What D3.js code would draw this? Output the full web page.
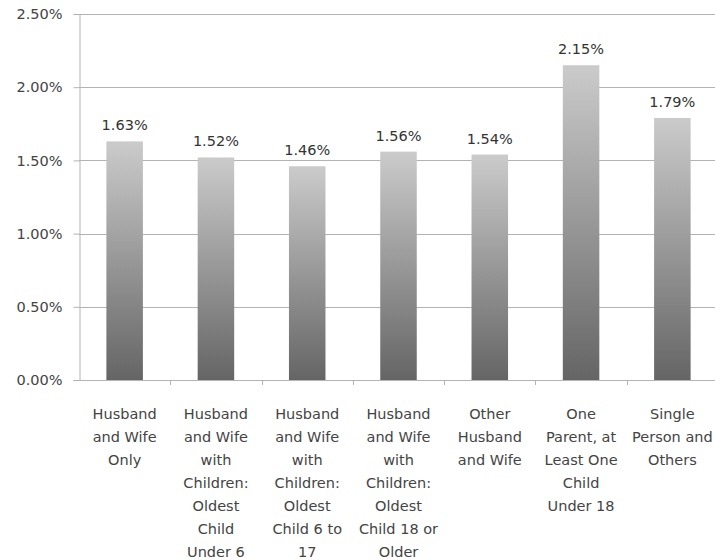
<!DOCTYPE html>
<html>
<head>
<meta charset="utf-8">
<script src="https://cdn.jsdelivr.net/npm/d3@7"></script>
<style>
  html, body { margin: 0; padding: 0; background: #fff; }
  svg { display: block; }
  text { font-family: "DejaVu Sans", sans-serif; }
</style>
</head>
<body>
<svg id="chart" width="715" height="560"></svg>
<script>
// Household types and their shares
const categories = [
  ["Husband", "and Wife", "Only"],
  ["Husband", "and Wife", "with", "Children:", "Oldest", "Child", "Under 6"],
  ["Husband", "and Wife", "with", "Children:", "Oldest", "Child 6 to", "17"],
  ["Husband", "and Wife", "with", "Children:", "Oldest", "Child 18 or", "Older"],
  ["Other", "Husband", "and Wife"],
  ["One", "Parent, at", "Least One", "Child", "Under 18"],
  ["Single", "Person and", "Others"]
];
const values = [1.63, 1.52, 1.46, 1.56, 1.54, 2.15, 1.79];
const yTicks = [0, 0.5, 1.0, 1.5, 2.0, 2.5];

const svg = d3.select("#chart");
const plotLeft = 79, plotRight = 718, plotTop = 14, plotBottom = 380;
const fontSize = 14.5;

const x = d3.scaleBand()
  .domain(d3.range(values.length))
  .range([plotLeft, plotRight])
  .paddingInner(0.6)
  .paddingOuter(0.3);

const y = d3.scaleLinear().domain([0, 2.5]).range([plotBottom, plotTop]);

// bar fill: light at the top, dark at the bottom
const grad = svg.append("defs").append("linearGradient")
  .attr("id", "barFill")
  .attr("x1", 0).attr("y1", 0).attr("x2", 0).attr("y2", 1);
grad.append("stop").attr("offset", "0%").attr("stop-color", "#cbcbcb");
grad.append("stop").attr("offset", "100%").attr("stop-color", "#656565");

// horizontal gridlines
svg.append("g")
  .selectAll("line")
  .data(yTicks.filter(d => d > 0))
  .join("line")
  .attr("x1", plotLeft).attr("x2", plotRight)
  .attr("y1", d => Math.round(y(d)) + 0.5)
  .attr("y2", d => Math.round(y(d)) + 0.5)
  .attr("stroke", "#b3b3b3")
  .attr("stroke-width", 1);

// y axis
const yAxis = d3.axisLeft(y)
  .tickValues(yTicks)
  .tickFormat(d => d.toFixed(2) + "%")
  .tickSize(6)
  .tickPadding(11);
const gy = svg.append("g").attr("transform", `translate(${plotLeft + 0.5},0)`).call(yAxis);
gy.select(".domain").attr("stroke", "#b3b3b3");
gy.selectAll(".tick line").attr("stroke", "#b3b3b3");
gy.selectAll(".tick text")
  .attr("font-size", fontSize)
  .attr("fill", "#444")
  .style("font-family", "'DejaVu Sans', sans-serif");

// bars
svg.append("g")
  .selectAll("rect")
  .data(values)
  .join("rect")
  .attr("x", (d, i) => x(i))
  .attr("width", x.bandwidth())
  .attr("y", d => y(d))
  .attr("height", d => y(0) - y(d))
  .attr("fill", "url(#barFill)");

// value labels
svg.append("g")
  .selectAll("text")
  .data(values)
  .join("text")
  .attr("x", (d, i) => x(i) + x.bandwidth() / 2)
  .attr("y", d => y(d) - 11)
  .attr("text-anchor", "middle")
  .attr("font-size", fontSize)
  .attr("fill", "#333")
  .text(d => d.toFixed(2) + "%");

// x axis baseline and ticks between categories
const edges = d3.range(values.length + 1).map(i => plotLeft + i * (plotRight - plotLeft) / values.length);
svg.append("line")
  .attr("x1", plotLeft).attr("x2", plotRight)
  .attr("y1", plotBottom + 0.5).attr("y2", plotBottom + 0.5)
  .attr("stroke", "#b3b3b3");
svg.append("g")
  .selectAll("line")
  .data(edges.slice(1))
  .join("line")
  .attr("x1", d => Math.round(d) + 0.5).attr("x2", d => Math.round(d) + 0.5)
  .attr("y1", plotBottom).attr("y2", plotBottom + 5)
  .attr("stroke", "#b3b3b3");

// category labels, several lines each
const cat = svg.append("g")
  .selectAll("text")
  .data(categories)
  .join("text")
  .attr("text-anchor", "middle")
  .attr("font-size", fontSize)
  .attr("fill", "#444")
  .attr("transform", (d, i) => `translate(${x(i) + x.bandwidth() / 2},419)`);
cat.selectAll("tspan")
  .data(d => d)
  .join("tspan")
  .attr("x", 0)
  .attr("y", (d, j) => j * 23)
  .text(d => d);
</script>
</body>
</html>
